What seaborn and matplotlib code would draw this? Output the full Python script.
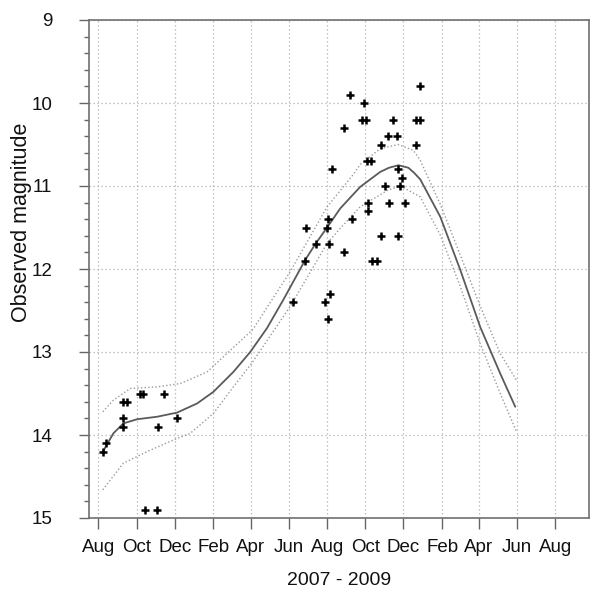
import numpy as np
import pandas as pd
import matplotlib
matplotlib.use("Agg")
import matplotlib.pyplot as plt
import matplotlib.dates as mdates
import matplotlib.ticker as mticker
import seaborn as sns

# ---------------- data ----------------
obs_dates = [
    "2007-08-09", "2007-08-13", "2007-09-09", "2007-09-10", "2007-09-09", "2007-09-15",
    "2007-10-06", "2007-10-12", "2007-11-14", "2007-11-04", "2007-12-05", "2007-10-15",
    "2007-11-03",
    "2008-06-07", "2008-06-27", "2008-06-28", "2008-07-14", "2008-07-29", "2008-08-01",
    "2008-08-02", "2008-08-03", "2008-08-04", "2008-08-05", "2008-08-09", "2008-08-28",
    "2008-08-28", "2008-09-07", "2008-09-09", "2008-09-25", "2008-09-29", "2008-10-02",
    "2008-10-04", "2008-10-10", "2008-10-05", "2008-10-05", "2008-10-11", "2008-10-19",
    "2008-10-26", "2008-10-26", "2008-11-01", "2008-11-06", "2008-11-08", "2008-11-15",
    "2008-11-20", "2008-11-22", "2008-11-22", "2008-11-25", "2008-11-29", "2008-12-03",
    "2008-12-21", "2008-12-21", "2008-12-27", "2008-12-28",
]
obs_mags = [
    14.2, 14.1, 13.9, 13.8, 13.6, 13.6,
    13.5, 13.5, 13.5, 13.9, 13.8, 14.9,
    14.9,
    12.4, 11.9, 11.5, 11.7, 12.4, 11.5,
    11.4, 12.6, 11.7, 12.3, 10.8, 11.8,
    10.3, 9.9, 11.4, 10.2, 10.0, 10.2,
    10.7, 10.7, 11.2, 11.3, 11.9, 11.9,
    10.5, 11.6, 11.0, 10.4, 11.2, 10.2,
    10.4, 10.8, 11.6, 11.0, 10.9, 11.2,
    10.5, 10.2, 10.2, 9.8,
]

fit_dates = [
    "2007-08-09", "2007-08-25", "2007-09-10", "2007-10-02", "2007-11-03", "2007-12-05",
    "2008-01-06", "2008-02-01", "2008-03-04", "2008-03-31", "2008-04-27", "2008-05-23",
    "2008-06-27", "2008-07-14", "2008-08-01", "2008-08-22", "2008-09-23", "2008-10-25",
    "2008-11-08", "2008-11-23", "2008-12-09", "2008-12-18", "2008-12-28", "2009-01-29",
    "2009-03-02", "2009-04-03", "2009-05-05", "2009-05-29",
]
fit_mags = [
    14.19, 13.98, 13.86, 13.81, 13.78, 13.73,
    13.62, 13.48, 13.24, 13.00, 12.71, 12.37,
    11.89, 11.69, 11.50, 11.27, 11.01, 10.83,
    10.78, 10.75, 10.78, 10.84, 10.92, 11.37,
    12.01, 12.70, 13.26, 13.66,
]

upper_dates = [
    "2007-08-08", "2007-08-25", "2007-09-21", "2007-11-03", "2007-12-10", "2008-01-22",
    "2008-02-28", "2008-04-04", "2008-06-03", "2008-08-01", "2008-09-12", "2008-09-23",
    "2008-10-25", "2008-11-23", "2008-12-17", "2008-12-28", "2009-01-29", "2009-03-02",
    "2009-04-03", "2009-05-05", "2009-05-31",
]
upper_mags = [
    13.72, 13.58, 13.44, 13.42, 13.38, 13.24,
    12.98, 12.73, 12.03, 11.25, 10.86, 10.74,
    10.55, 10.50, 10.57, 10.69, 11.22, 11.83,
    12.45, 13.02, 13.34,
]

lower_dates = [
    "2007-08-08", "2007-09-10", "2007-10-18", "2007-11-29", "2007-12-26", "2008-02-01",
    "2008-03-04", "2008-04-02", "2008-06-03", "2008-08-01", "2008-08-22", "2008-09-23",
    "2008-11-06", "2008-11-26", "2008-12-28", "2009-01-29", "2009-03-02", "2009-04-03",
    "2009-05-05", "2009-05-31",
]
lower_mags = [
    14.66, 14.34, 14.20, 14.06, 13.98, 13.74,
    13.42, 13.14, 12.45, 11.69, 11.51, 11.25,
    11.05, 11.00, 11.13, 11.59, 12.21, 12.90,
    13.50, 13.96,
]

tick_dates = [
    "2007-08-01", "2007-10-01", "2007-12-01", "2008-02-01", "2008-04-01", "2008-06-01",
    "2008-08-01", "2008-10-01", "2008-12-01", "2009-02-01", "2009-04-01", "2009-06-01",
    "2009-08-01",
]
tick_labels = ["Aug", "Oct", "Dec", "Feb", "Apr", "Jun", "Aug",
               "Oct", "Dec", "Feb", "Apr", "Jun", "Aug"]
y_ticks = [9, 10, 11, 12, 13, 14, 15]

# ---------------- style ----------------
sns.set_style("white")
plt.rcParams["font.family"] = ["Liberation Sans", "DejaVu Sans"]

obs = pd.DataFrame({"date": pd.to_datetime(obs_dates), "mag": obs_mags})
fit = pd.DataFrame({"date": pd.to_datetime(fit_dates), "mag": fit_mags})
upp = pd.DataFrame({"date": pd.to_datetime(upper_dates), "mag": upper_mags})
low = pd.DataFrame({"date": pd.to_datetime(lower_dates), "mag": lower_mags})

fig = plt.figure(figsize=(5.94, 5.90), dpi=100)
ax = fig.add_axes([89 / 594, 1 - 518 / 590, 500 / 594, 498 / 590])

band_kw = dict(color="#9a9a9a", linewidth=1.0, linestyle=(0, (1, 1.6)))
sns.lineplot(data=upp, x="date", y="mag", ax=ax, sort=False, **band_kw)
sns.lineplot(data=low, x="date", y="mag", ax=ax, sort=False, **band_kw)
sns.lineplot(data=fit, x="date", y="mag", ax=ax, sort=False,
             color="#5a5a5a", linewidth=1.3)
sns.scatterplot(data=obs, x="date", y="mag", ax=ax, marker="+", s=40,
                color="black", linewidth=1.8, zorder=4)

# axes limits
ax.set_xlim(pd.Timestamp("2007-07-17"), pd.Timestamp("2009-09-24"))
ax.set_ylim(15, 9)

# ticks
ax.xaxis.set_major_locator(mticker.FixedLocator(mdates.date2num(pd.to_datetime(tick_dates))))
ax.set_xticklabels(tick_labels)
ax.yaxis.set_major_locator(mticker.FixedLocator(y_ticks))
ax.set_yticklabels([str(v) for v in y_ticks])
ax.yaxis.set_minor_locator(mticker.MultipleLocator(0.2))

ax.tick_params(axis="x", which="major", direction="out", length=8, width=1,
               color="#666666", labelsize=13.5, pad=7, bottom=True,
               labelcolor="#111111")
ax.tick_params(axis="y", which="major", direction="out", length=7.5, width=1,
               color="#666666", labelsize=13.5, pad=19, left=True,
               labelcolor="#111111")
ax.tick_params(axis="y", which="minor", direction="out", length=3.5, width=1,
               color="#666666", left=True)

# grid
ax.grid(True, which="major", axis="both", color="#b0b0b0",
        linestyle=(0, (1, 2.2)), linewidth=0.9)
ax.set_axisbelow(True)

for s in ax.spines.values():
    s.set_visible(True)
    s.set_color("#707070")
    s.set_linewidth(1.2)

ax.set_xlabel("2007 - 2009", fontsize=14, color="#111111")
ax.xaxis.set_label_coords(0.5, -0.125)
ax.xaxis.label.set_va("center")
ax.set_ylabel("Observed magnitude", fontsize=15.5, color="#111111")
ax.yaxis.set_label_coords(-0.135, 0.594)
ax.yaxis.label.set_va("center")

fig.savefig("out.png", dpi=100)
